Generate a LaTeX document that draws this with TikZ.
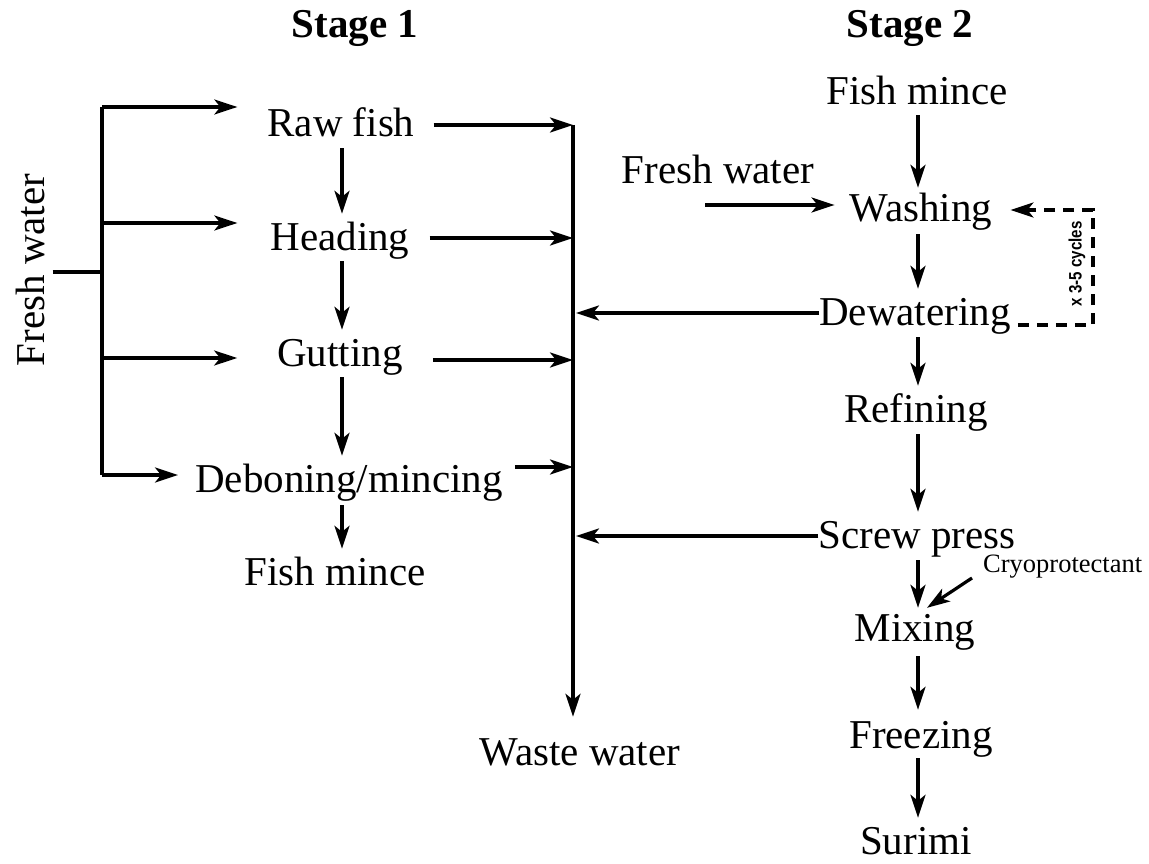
\documentclass[tikz,border=0pt]{standalone}
\usepackage{fontspec}
\usepackage{graphicx}
\setmainfont{Liberation Serif}
\newfontfamily\cycfont{Liberation Sans}
\usetikzlibrary{arrows.meta}
\begin{document}
\begin{tikzpicture}[x=1pt,y=-1pt,
  lbl/.style={inner sep=0pt,anchor=base,text height=29pt,text depth=9pt,font=\fontsize{41}{49}\selectfont},
  ttl/.style={inner sep=0pt,anchor=base,font=\fontsize{41}{49}\selectfont\bfseries},
  arr/.style={line width=3.2pt,-{Stealth[length=23pt,width=15pt,inset=6pt]}},
  ln/.style={line width=3.2pt},
  dsh/.style={line width=3.2pt,dash pattern=on 11pt off 8pt,-{Stealth[length=23pt,width=15pt,inset=6pt]}}]
\useasboundingbox (0,0) rectangle (1149,864);
% titles
\node[ttl] (st1) at (355,38) {Stage 1};
\node[ttl] (st2) at (910,38) {Stage 2};
% stage 1
\node[lbl] (raw)  at (341,137) {Raw fish};
\node[lbl] (head) at (340,250) {Heading};
\node[lbl] (gut)  at (340,366) {Gutting};
\node[lbl] (deb)  at (349,492) {Deboning/mincing};
\node[lbl] (fm1)  at (335,585) {Fish mince};
\node[inner sep=0pt,rotate=90,font=\fontsize{41}{49}\selectfont] (fw1) at (30,270) {Fresh water};
\node[lbl] (waste) at (580,765) {Waste water};
% stage 2
\node[lbl] (fm2)  at (917,105) {Fish mince};
\node[lbl] (fw2)  at (718,183) {Fresh water};
\node[lbl] (wash) at (921,222) {Washing};
\node[lbl] (dew)  at (915,325) {Dewatering};
\node[lbl] (ref)  at (916,422) {Refining};
\node[lbl] (scr)  at (917,548) {Screw press};
\node[lbl] (mix)  at (915,641) {Mixing};
\node[lbl] (frz)  at (921,748) {Freezing};
\node[lbl] (sur)  at (916,854) {Surimi};
\node[inner sep=0pt,anchor=base west,font=\fontsize{26.5}{30}\selectfont] (cryo) at (983,572) {Cryoprotectant};
\node[inner sep=0pt,rotate=90,font=\cycfont\fontsize{18}{19}\selectfont\bfseries] (cyc) at (1077,264) {\scalebox{0.84}[1]{x 3-5 cycles}};
% fresh water bus
\coordinate (fwj) at (102,272);
\coordinate (bt) at (102,107);
\coordinate (bb) at (102,475);
\draw[ln] ([xshift=8pt]fw1.south |- fwj) -- (fwj);
\draw[ln] (bt) -- (bb);
\draw[arr] (bt) -- ([xshift=-30pt]raw.west |- bt);
\coordinate (b2) at (102,223);
\coordinate (b3) at (102,358);
\draw[arr] (b2) -- ([xshift=-33pt]head.west |- b2);
\draw[arr] (b3) -- ([xshift=-40pt]gut.west |- b3);
\draw[arr] (bb) -- ([xshift=-17pt]deb.west |- bb);
% stage 1 vertical
\draw[arr] ([xshift=1pt,yshift=-2pt]raw.south) -- ([xshift=1pt,yshift=7pt]raw.south |- head.north);
\draw[arr] ([xshift=2pt,yshift=-2pt]head.south) -- ([xshift=2pt,yshift=7pt]head.south |- gut.north);
\draw[arr] ([xshift=2pt,yshift=-2pt]gut.south) -- ([xshift=2pt,yshift=7pt]gut.south |- deb.north);
\draw[arr] ([xshift=-7pt,yshift=-4pt]deb.south) -- ([xshift=-7pt,yshift=7pt]deb.south |- fm1.north);
% waste line
\coordinate (wt) at (573,125);
\draw[arr] (wt) -- ([yshift=19pt]wt |- waste.north);
\draw[arr] ([xshift=19pt,yshift=12pt]raw.base east) -- (wt);
\draw[arr] ([xshift=20pt,yshift=12pt]head.base east) -- ([yshift=12pt]wt |- head.base);
\draw[arr] ([xshift=30pt,yshift=6pt]gut.base east) -- ([yshift=6pt]wt |- gut.base);
\draw[arr] ([xshift=12pt,yshift=25pt]deb.base east) -- ([yshift=25pt]wt |- deb.base);
\draw[arr] ([yshift=12pt]dew.base west) -- ([xshift=3pt,yshift=12pt]wt |- dew.base);
\draw[arr] ([yshift=12pt]scr.base west) -- ([xshift=3pt,yshift=12pt]wt |- scr.base);
% stage 2 vertical
\draw[arr] ([xshift=1pt,yshift=-1pt]fm2.south) -- ([xshift=1pt,yshift=5pt]fm2.south |- wash.north);
\draw[arr] ([xshift=-3pt,yshift=-3pt]wash.south) -- ([xshift=-3pt,yshift=7pt]wash.south |- dew.north);
\draw[arr] ([xshift=3pt,yshift=-3pt]dew.south) -- ([xshift=3pt,yshift=7pt]dew.south |- ref.north);
\draw[arr] ([xshift=2pt,yshift=-3pt]ref.south) -- ([xshift=2pt,yshift=7pt]ref.south |- scr.north);
\draw[arr] ([xshift=1pt,yshift=-3pt]scr.south) -- ([xshift=1pt,yshift=4pt]scr.south |- mix.north);
\draw[arr] ([xshift=3pt,yshift=-6pt]mix.south) -- ([xshift=3pt,yshift=9pt]mix.south |- frz.north);
\draw[arr] ([xshift=-3pt,yshift=-1pt]frz.south) -- ([xshift=-3pt,yshift=7pt]frz.south |- sur.north);
% fresh water into washing
\coordinate (fws) at (705,205);
\draw[arr] (fws) -- ([xshift=-15pt]wash.west |- fws);
% recycle loop
\coordinate (lr) at (1093,325);
\draw[dsh] ([xshift=7pt]dew.base east) -- (lr) -- (lr |- 0,210) -- ([xshift=18pt]wash.east |- 0,210);
% cryoprotectant
\draw[arr] ([xshift=-11pt,yshift=-6pt]cryo.base west) -- ([xshift=12pt,yshift=4pt]mix.north);
\end{tikzpicture}
\end{document}
